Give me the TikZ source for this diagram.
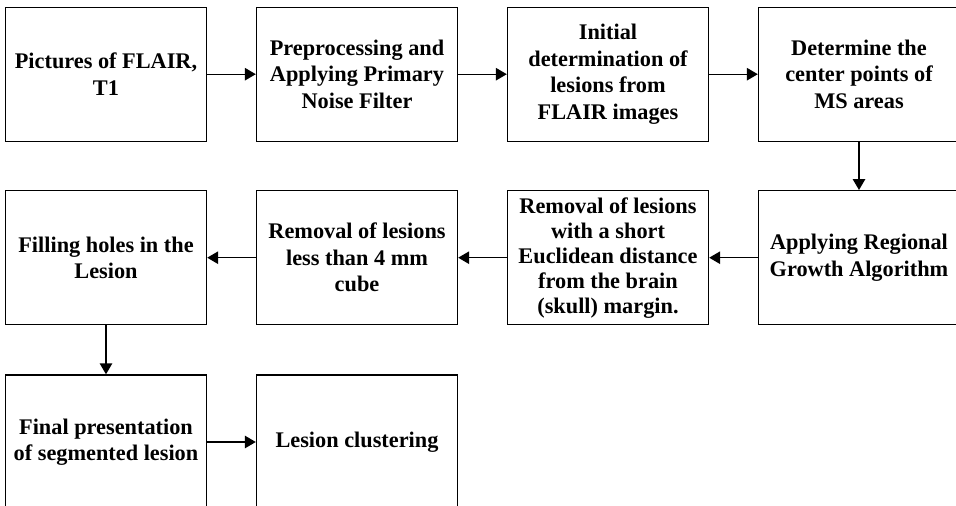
\documentclass[tikz,border=0pt]{standalone}
\usepackage{fontspec}
\setmainfont{Liberation Serif}
\usetikzlibrary{arrows.meta}
\begin{document}
\begin{tikzpicture}[x=1pt,y=-1pt,
  stepbox/.style={draw=black,line width=1.4pt,minimum width=201pt,minimum height=134pt,
    align=center,inner sep=0pt,font=\fontsize{22.3}{26.5}\selectfont\bfseries},
  flow/.style={line width=1.4pt,-{Triangle[length=11pt,width=12.5pt]}}]
\useasboundingbox (0,0) rectangle (956,506);
% first row
\node[stepbox] (a) at (106,74.2) {Pictures of FLAIR,\\T1};
\node[stepbox] (b) at (357,74.2) {Preprocessing and\\Applying Primary\\Noise Filter};
\node[stepbox] (c) at (608,74.2) {Initial\\determination of\\lesions from\\FLAIR images};
\node[stepbox] (d) at (859,74.2) {Determine the\\center points of\\MS areas};
% second row
\node[stepbox] (e) at (859,257.7) {Applying Regional\\Growth Algorithm};
\node[stepbox,font=\fontsize{22.3}{25}\selectfont\bfseries] (f) at (608,257.7) {Removal of lesions\\with a short\\Euclidean distance\\from the brain\\(skull) margin.};
\node[stepbox] (g) at (357,257.7) {Removal of lesions\\less than 4 mm\\cube};
\node[stepbox] (h) at (106,257.7) {Filling holes in the\\Lesion};
% third row
\node[stepbox] (i) at (106,442) {Final presentation\\of segmented lesion};
\node[stepbox] (j) at (357,442) {Lesion clustering};
% connectors
\draw[flow] (a) -- (b);
\draw[flow] (b) -- (c);
\draw[flow] (c) -- (d);
\draw[flow] (d) -- (e);
\draw[flow] (e) -- (f);
\draw[flow] (f) -- (g);
\draw[flow] (g) -- (h);
\draw[flow] (h) -- (i);
\draw[flow] (i) -- (j);
\end{tikzpicture}
\end{document}
